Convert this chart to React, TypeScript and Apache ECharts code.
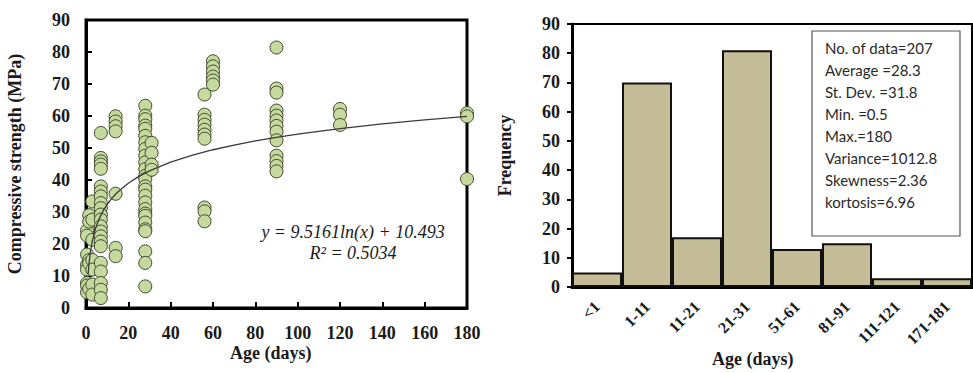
import React, { useEffect, useRef } from "react";
import * as echarts from "echarts";

// ---- Left chart: compressive strength vs age ----
const ageGroups: number[] = [0.5, 1.5, 3, 7, 14, 28, 31, 56, 60, 90, 120, 180];
const strengthGroups: number[][] = [
  [24.2, 22.6, 16.7, 13.5, 12, 7.8, 7, 4.9],
  [29, 27, 15, 14, 6],
  [33.3, 27.6, 21.3, 15, 12, 7.3, 4.2],
  [54.7, 46.9, 45.8, 44.8, 43.5, 38, 36.4, 34.9, 32.8, 31.2, 29.2, 27.6, 25.5, 23.9, 22.4, 20.8, 19.3, 14.1, 11.4, 7.8, 5.7, 3.1],
  [59.9, 58.3, 56.8, 55.2, 35.7, 18.8, 16.2],
  [63.2, 60.1, 59, 57, 56, 53.8, 51.8, 49.7, 47.6, 45.5, 43.4, 41.3, 40.3, 38, 37, 35.1, 33, 30.9, 29.5, 28.8, 26.7, 24.6, 24, 17.7, 14.1, 6.75],
  [51.6, 48.5, 44.8, 43.2],
  [66.7, 60.4, 58.8, 57.3, 55.7, 54.2, 52.9, 31.4, 30.2, 27.1],
  [77.1, 75.5, 73.9, 72.3, 71.1, 69.8],
  [81.4, 68.6, 67.3, 61.7, 60.1, 58.6, 56.9, 55.1, 52.4, 47.6, 45.9, 44.4, 42.7],
  [62.2, 60.4, 57.2],
  [60.9, 59.9, 40.3],
];
// Trendline from the equation shown on the chart: y = 9.5161 ln(x) + 10.493
const trendA = 9.5161;
const trendB = 10.493;
const trendAges: number[] = [1, 1.5, 2, 3, 4, 5, 6, 8, 10, 12, 15, 20, 25, 30, 40, 50, 60, 70, 80, 90, 100, 120, 140, 160, 180];

// ---- Right chart: histogram ----
const ageBins: string[] = ["<1", "1-11", "11-21", "21-31", "51-61", "81-91", "111-121", "171-181"];
const frequencies: number[] = [5, 70, 17, 81, 13, 15, 3, 3];
const statsLines: string[] = [
  "No. of data=207",
  "Average =28.3",
  "St. Dev. =31.8",
  "Min. =0.5",
  "Max.=180",
  "Variance=1012.8",
  "Skewness=2.36",
  "kortosis=6.96",
];

const SERIF = "'Liberation Serif', 'Times New Roman', serif";
const INK = "#1a1a1a";

export default function App() {
  const ref = useRef<HTMLDivElement>(null);
  useEffect(() => {
    if (!ref.current) return;
    const chart = echarts.init(ref.current, null, { renderer: "svg" });
    const scatterData: number[][] = [];
    ageGroups.forEach((a, i) => strengthGroups[i].forEach((s) => scatterData.push([a, s])));
    const trendData = trendAges.map((x) => [x, trendA * Math.log(x) + trendB]);
    const labelStyle = { fontFamily: SERIF, fontWeight: "bold" as const, fontSize: 18, color: INK };

    chart.setOption({
      animation: false,
      backgroundColor: "#fff",
      grid: [
        { left: 86, top: 20, width: 381, height: 288, show: true, borderColor: "#000", borderWidth: 3, backgroundColor: "transparent" },
        { left: 572, top: 24, width: 400, height: 263, show: true, borderColor: "#000", borderWidth: 2, backgroundColor: "transparent" },
      ],
      xAxis: [
        {
          type: "value", gridIndex: 0, min: 0, max: 180, interval: 20,
          axisLine: { lineStyle: { color: "#000", width: 3 } },
          axisTick: { inside: true, length: 6, lineStyle: { color: "#000", width: 2 } },
          axisLabel: { ...labelStyle, margin: 16 },
          splitLine: { show: false },
        },
        {
          type: "category", gridIndex: 1, data: ageBins,
          axisLine: { lineStyle: { color: "#000", width: 3 } },
          axisTick: { show: false },
          axisLabel: { ...labelStyle, fontSize: 16, rotate: 45, margin: 17, interval: 0 },
        },
      ],
      yAxis: [
        {
          type: "value", gridIndex: 0, min: 0, max: 90, interval: 10,
          name: "Compressive strength (MPa)", nameLocation: "middle", nameGap: 62,
          nameTextStyle: { ...labelStyle },
          axisLine: { show: true, lineStyle: { color: "#000", width: 3 } },
          axisTick: { show: true, inside: true, length: 6, lineStyle: { color: "#000", width: 2 } },
          axisLabel: { ...labelStyle, margin: 16 },
          splitLine: { show: false },
        },
        {
          type: "value", gridIndex: 1, min: 0, max: 90, interval: 10,
          name: "Frequency", nameLocation: "middle", nameGap: 58,
          nameTextStyle: { ...labelStyle },
          axisLine: { show: true, lineStyle: { color: "#000", width: 3 } },
          axisTick: { show: true, length: 5, lineStyle: { color: "#000", width: 2 } },
          axisLabel: { ...labelStyle, margin: 12 },
          splitLine: { show: false },
        },
      ],
      series: [
        {
          type: "scatter", xAxisIndex: 0, yAxisIndex: 0, data: scatterData,
          symbolSize: 13,
          itemStyle: { color: "#c6da9f", borderColor: "#3e4a2c", borderWidth: 1, opacity: 1 },
          z: 2,
        },
        {
          type: "line", xAxisIndex: 0, yAxisIndex: 0, data: trendData,
          showSymbol: false, smooth: false,
          lineStyle: { color: "#3a3a3a", width: 1.3 },
          z: 3,
        },
        {
          type: "bar", xAxisIndex: 1, yAxisIndex: 1, data: frequencies,
          barCategoryGap: "0%",
          itemStyle: { color: "#c4bd97", borderColor: "#111", borderWidth: 2 },
        },
      ],
      graphic: [
        { type: "text", left: 230, top: 344, style: { text: "Age (days)", font: `bold 18px ${SERIF}`, fill: INK } },
        { type: "text", left: 712, top: 350, style: { text: "Age (days)", font: `bold 18px ${SERIF}`, fill: INK } },
        { type: "text", x: 353, y: 232, style: { text: "y = 9.5161ln(x) + 10.493", font: `italic 18px ${SERIF}`, fill: INK, textAlign: "center", textVerticalAlign: "middle" } },
        { type: "text", x: 353, y: 253, style: { text: "R² = 0.5034", font: `italic 18px ${SERIF}`, fill: INK, textAlign: "center", textVerticalAlign: "middle" } },
        { type: "rect", shape: { x: 812, y: 31, width: 148, height: 205 }, style: { fill: "#fff", stroke: "#555", lineWidth: 1.2 }, z: 10 },
        ...statsLines.map((t, i) => ({
          type: "text", x: 825, y: 48 + i * 22, z: 11,
          style: { text: t, font: "15px Lato, 'Noto Sans', sans-serif", fill: "#2a2a2a", textVerticalAlign: "middle" },
        })),
      ],
    });
    return () => chart.dispose();
  }, []);
  return <div ref={ref} style={{ position: "fixed", left: 0, top: 0, width: 973, height: 373 }} />;
}
